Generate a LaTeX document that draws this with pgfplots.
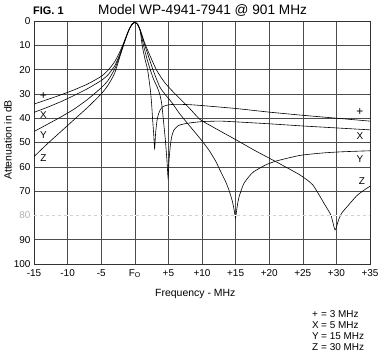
\documentclass[border=0pt]{standalone}
\usepackage{fontspec}
\setmainfont{Liberation Sans}
\usepackage{pgfplots}
\pgfplotsset{compat=1.18}
\pgfplotsset{mycurve/.style={black, line width=0.6pt, smooth, tension=0.35, mark=none}}
\begin{document}
\begin{tikzpicture}
\path[use as bounding box] (-34bp,-90bp) rectangle (347bp,264bp);
\begin{axis}[at={(168bp,121.5bp)}, anchor=center, scale only axis, width=336bp, height=243bp,
 xmin=-15,xmax=35,ymin=0,ymax=100,y dir=reverse,
 xtick={-15,-10,...,35}, xticklabels={-15,-10,-5,F\textsubscript{O},+5,+10,+15,+20,+25,+30,+35},
 ytick={0,10,...,100}, yticklabels={0,10,20,30,40,50,60,70,{\textcolor{gray!60}{80}},90,100},
 grid=major, major grid style={black!70, line width=0.6pt},
 major tick length=0pt,
 axis line style={black!80,line width=0.7pt},
 tick label style={font=\fontsize{10}{12}\selectfont},
 xticklabel style={yshift=-2bp},
 clip=true,
]
% + (3 MHz)
\addplot[mycurve] coordinates {(-15,34.2) (-13,32.3) (-11,30.4) (-9,28.3) (-7,25.9) (-5,22.8) (-4,20.3) (-3,16.8) (-2.2,12.5) (-1.6,8.6) (-1.2,5.8) (-0.8,3.2) (-0.4,1.3) (0,0.6) (0.4,1.3) (0.8,4) (1.1,10) (1.5,15.5) (1.9,20) (2.3,28) (2.5,34) (2.65,40.5) (2.8,46) (2.95,52.5) (3.1,46) (3.3,41) (3.5,38.5) (3.8,36.5) (4.2,35.2) (5,34.5) (6,34.3) (8,34.4) (10,34.8) (15,36) (20,37.5) (25,38.8) (30,40) (35,41.2)};
% X (5 MHz)
\addplot[mycurve] coordinates {(-15,37.6) (-13,35.5) (-11,33.2) (-9,30.6) (-7,27.8) (-5,24.5) (-4,22.2) (-3,18.5) (-2.2,13.5) (-1.6,9) (-1.2,5.9) (-0.8,3.2) (-0.4,1.3) (0,0.6) (0.4,1.3) (0.8,3.8) (1.3,10) (1.8,15.5) (2.3,20) (2.8,24) (3.3,27) (3.7,30) (4.0,34) (4.3,42) (4.55,49) (4.8,58) (4.95,64.5) (5.1,57) (5.3,51) (5.5,47.5) (5.8,45) (6.5,43) (7.8,42.1) (10,41.4) (12.7,41.2) (15,41.5) (20,42.3) (25,43.2) (30,44) (35,44.8)};
% Y (15 MHz)
\addplot[mycurve] coordinates {(-15,45.5) (-13,42.5) (-11,39.5) (-9,36.2) (-7,32.2) (-5,27.5) (-4,24.5) (-3,19.8) (-2.2,14) (-1.6,9.1) (-1.2,6) (-0.8,3.2) (-0.4,1.3) (0,0.6) (0.4,1.3) (0.8,3.8) (1.5,10) (2.7,20) (3.7,27) (4.6,30.5) (5.5,33.5) (6.5,37.5) (7.5,41) (8.5,44.3) (9.7,48.3) (11,53) (12,57.5) (12.7,61.5) (13.5,66) (14,69.5) (14.5,74) (14.8,78) (15,81) (15.2,77) (15.5,72.5) (16.2,67) (17,64) (17.7,62) (19.5,59.2) (21.2,57.5) (24.6,55.3) (28,54.3) (31,53.8) (35,53.4)};
% Z (30 MHz)
\addplot[mycurve] coordinates {(-15,55.8) (-13,50.5) (-11,45.5) (-9,40.5) (-7,35.5) (-5,30) (-4,26.5) (-3,21.5) (-2.2,14.5) (-1.6,9.3) (-1.2,6) (-0.8,3.2) (-0.4,1.3) (0,0.6) (0.4,1.3) (0.8,3.6) (1.6,10) (3.2,20) (4.5,25.5) (6,30) (8,35.5) (9.7,40.5) (12,44.2) (15,48.8) (18,53.5) (21.2,58.2) (24.6,63.4) (26.5,67.5) (28.3,75.7) (29.2,80) (29.8,86) (30.3,82) (30.8,79) (31.6,76.4) (33,72) (34,69.8) (35,68)};
\draw[white, line width=1.4pt] (axis cs:-15,80) -- (axis cs:35,80);
\draw[gray!35, line width=0.5pt, dash pattern=on 3pt off 3pt] (axis cs:-15,80) -- (axis cs:35,80);
\node[font=\fontsize{12}{14}\selectfont] at (axis cs:-13.6,31) {+};
\node[font=\fontsize{10}{12}\selectfont] at (axis cs:-13.6,38.6) {X};
\node[font=\fontsize{10}{12}\selectfont] at (axis cs:-13.6,47) {Y};
\node[font=\fontsize{10}{12}\selectfont] at (axis cs:-13.6,56.4) {Z};
\node[font=\fontsize{12}{14}\selectfont] at (axis cs:33.5,37.3) {+};
\node[font=\fontsize{10}{12}\selectfont] at (axis cs:33.5,47.3) {X};
\node[font=\fontsize{10}{12}\selectfont] at (axis cs:33.5,56.8) {Y};
\node[font=\fontsize{10}{12}\selectfont] at (axis cs:33.8,66) {Z};
\end{axis}
\node[anchor=base west, font=\bfseries\fontsize{11}{13}\selectfont, inner sep=0pt] at (-1bp,249bp) {FIG. 1};
\node[anchor=base west, font=\fontsize{13.7}{15}\selectfont, inner sep=0pt] at (64bp,249bp) {Model WP-4941-7941 @ 901 MHz};
\node[anchor=base west, font=\fontsize{10.5}{12}\selectfont, inner sep=0pt] at (121bp,-32bp) {Frequency - MHz};
\node[rotate=90, font=\fontsize{10.5}{12}\selectfont, inner sep=0pt] at (-26bp,124bp) {Attenuation in dB};
\foreach \s/\t [count=\i] in {+/3 MHz, X/5 MHz, Y/15 MHz, Z/30 MHz}{
  \node[anchor=base west, font=\fontsize{10}{12}\selectfont, inner sep=0pt] at (278bp,{-53.5bp-11bp*(\i-1)}) {\s};
  \node[anchor=base west, font=\fontsize{10}{12}\selectfont, inner sep=0pt] at (287bp,{-53.5bp-11bp*(\i-1)}) {= \t};
}
\end{tikzpicture}
\end{document}
